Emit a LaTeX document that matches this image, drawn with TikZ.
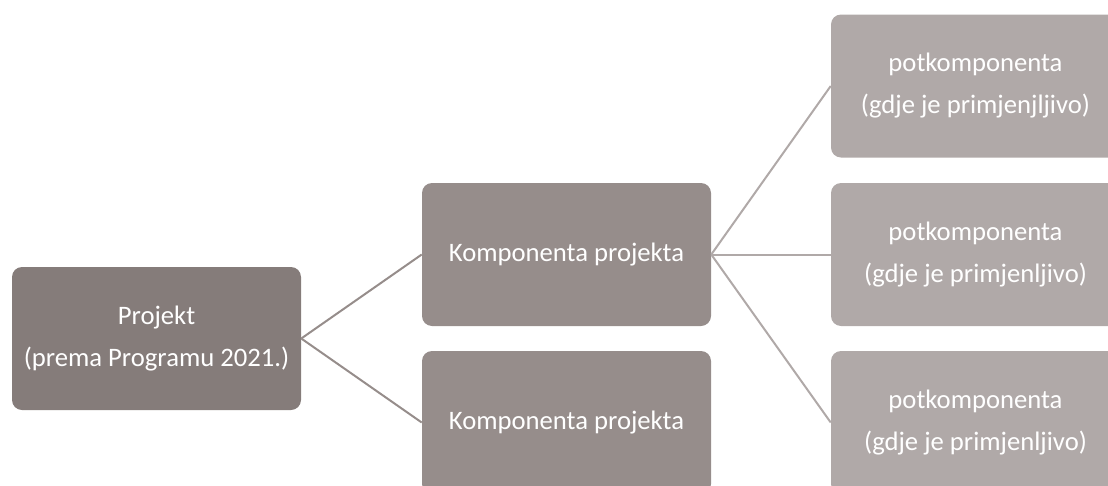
\documentclass[tikz,border=0pt]{standalone}
\usepackage{fontspec}
\setmainfont{Carlito}
\definecolor{projfill}{HTML}{857C7A}
\definecolor{kompfill}{HTML}{968D8B}
\definecolor{potfill}{HTML}{B0A9A8}

\begin{document}
\begin{tikzpicture}[x=0.75pt,y=-0.75pt,
    box/.style={rounded corners=7.5pt,minimum width=216.75pt,minimum height=107.25pt,
        inner sep=0pt,align=center,text=white,font=\fontsize{20}{31.5}\selectfont},
    link/.style={line width=1.5pt,draw=kompfill},
    sublink/.style={line width=1.5pt,draw=potfill}]
\useasboundingbox (0,0) rectangle (1108,486);
\clip (0,0) rectangle (1108,486);
% levels
\node[box,fill=projfill] (proj) at (156.5,338.5) {Projekt\\(prema Programu 2021.)};
\node[box,fill=kompfill] (komp1) at (566.5,254.5) {Komponenta projekta};
\node[box,fill=kompfill] (komp2) at (566.5,422.5) {Komponenta projekta};
\node[box,fill=potfill] (pot1) at (975.5,86) {potkomponenta\\(gdje je primjenjljivo)};
\node[box,fill=potfill] (pot2) at (975.5,254.5) {potkomponenta\\(gdje je primjenljivo)};
\node[box,fill=potfill] (pot3) at (975.5,422.5) {potkomponenta\\(gdje je primjenljivo)};
% connectors
\draw[link] (proj.east) -- (komp1.west);
\draw[link] (proj.east) -- (komp2.west);
\draw[sublink] (komp1.east) -- (pot1.west);
\draw[sublink] (komp1.east) -- (pot2.west);
\draw[sublink] (komp1.east) -- (pot3.west);
\end{tikzpicture}
\end{document}
